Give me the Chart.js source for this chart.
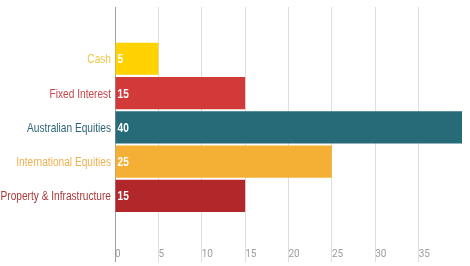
<!DOCTYPE html>
<html>
<head>
<meta charset="utf-8">
<script src="https://cdn.jsdelivr.net/npm/chart.js@4/dist/chart.umd.min.js"></script>
<style>
  html, body { margin: 0; padding: 0; background: #fff; }
  #wrap { width: 470px; height: 266px; }
</style>
</head>
<body>
<div id="wrap"><canvas id="allocChart"></canvas></div>
<script>
const categories = ['Cash', 'Fixed Interest', 'Australian Equities', 'International Equities', 'Property & Infrastructure'];
const allocations = [5, 15, 40, 25, 15];
const barColors = ['#FFD200', '#D23A3A', '#276B79', '#F4B035', '#B2282A'];
const labelColors = ['#F2C84B', '#C8464A', '#2D6477', '#EFB14E', '#A93A3A'];
const xTicks = [0, 5, 10, 15, 20, 25, 30, 35];

// no narrow font installed, so squeeze Liberation Sans horizontally
const squeeze = 0.78;

function narrowText(ctx, text, x, y, align) {
    ctx.save();
    ctx.translate(x, y);
    ctx.scale(squeeze, 1);
    ctx.textAlign = align;
    ctx.fillText(text, 0, 0);
    ctx.restore();
}

// category names left of the axis, values at the start of each bar
const barLabels = {
    id: 'barLabels',
    afterDatasetsDraw(chart) {
        const ctx = chart.ctx;
        const yScale = chart.scales.y;
        const meta = chart.getDatasetMeta(0);
        ctx.save();
        ctx.font = "13px 'Liberation Sans', Arial, sans-serif";
        ctx.textBaseline = 'middle';
        categories.forEach((name, i) => {
            ctx.fillStyle = labelColors[i];
            narrowText(ctx, name, yScale.right - 4, yScale.getPixelForValue(i) + 1, 'right');
        });
        ctx.font = "bold 13px 'Liberation Sans', Arial, sans-serif";
        ctx.fillStyle = '#fff';
        meta.data.forEach((bar, i) => {
            narrowText(ctx, String(allocations[i]), bar.base + 2, bar.y + 1, 'left');
        });
        ctx.restore();
    }
};

new Chart(document.getElementById('allocChart').getContext('2d'), {
    type: 'bar',
    data: {
        datasets: [{
            data: allocations.map((v, i) => ({ x: v, y: i })),
            backgroundColor: barColors,
            borderWidth: 0,
            categoryPercentage: 1,
            barPercentage: 0.94
        }]
    },
    options: {
        indexAxis: 'y',
        responsive: true,
        maintainAspectRatio: false,
        animation: false,
        layout: { padding: { top: 7, right: 8, left: 0, bottom: 0 } },
        plugins: { legend: { display: false }, tooltip: { enabled: false } },
        scales: {
            x: {
                type: 'linear',
                min: 0,
                max: 40,
                afterBuildTicks: s => { s.ticks = xTicks.concat([40]).map(v => ({ value: v })); },
                afterFit: s => { s.height = 28; },
                border: { display: false },
                grid: {
                    color: c => {
                        if (!c.tick) return '#dedede';
                        if (c.tick.value === 40) return 'rgba(0,0,0,0)';
                        return c.tick.value === 0 ? '#a0a0a0' : '#dedede';
                    },
                    tickLength: 24
                },
                ticks: {
                    align: 'start',
                    padding: -14,
                    color: '#9c9c9c',
                    font: { family: 'Roboto, sans-serif', size: 10 },
                    callback: v => xTicks.includes(v) ? String(v) : ''
                }
            },
            y: {
                type: 'linear',
                reverse: true,
                offset: false,
                min: -1.51,
                max: 5.23,
                afterBuildTicks: s => { s.ticks = categories.map((c, i) => ({ value: i })); },
                afterFit: s => { s.width = 115; },
                border: { display: true, color: '#a0a0a0' },
                grid: { display: false },
                ticks: { display: false }
            }
        }
    },
    plugins: [barLabels]
});
</script>
</body>
</html>
